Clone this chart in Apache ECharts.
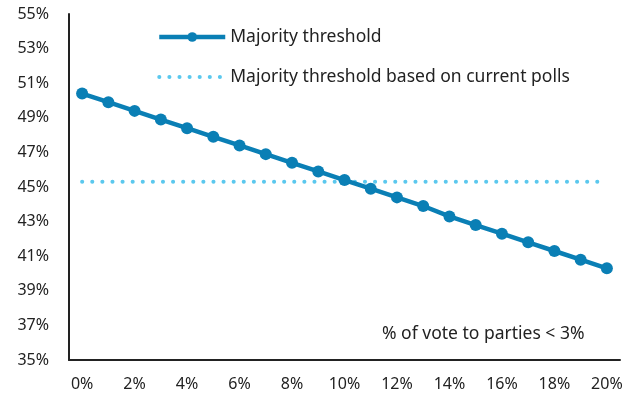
<!DOCTYPE html>
<html><head><meta charset="utf-8">
<script src="https://cdn.jsdelivr.net/npm/echarts@6/dist/echarts.min.js"></script>
<style>html,body{margin:0;padding:0;background:#fff}#c{width:634px;height:398px}</style>
</head><body><div id="c"></div>
<script>
const categories = ['0%','1%','2%','3%','4%','5%','6%','7%','8%','9%','10%','11%','12%','13%','14%','15%','16%','17%','18%','19%','20%'];
const majority = [50.4,49.9,49.4,48.9,48.4,47.9,47.4,46.9,46.4,45.9,45.4,44.9,44.4,43.9,43.3,42.8,42.3,41.8,41.3,40.8,40.3];
const pollsThreshold = [45.3,45.3,45.3,45.3,45.3,45.3,45.3,45.3,45.3,45.3,45.3,45.3,45.3,45.3,45.3,45.3,45.3,45.3,45.3,45.3,45.3];
const seriesNames = ['Majority threshold','Majority threshold based on current polls'];
const noteText = '% of vote to parties < 3%';
const font = 'Noto Sans';
const chart = echarts.init(document.getElementById('c'));
chart.setOption({
  animation:false,
  textStyle:{fontFamily:font},
  grid:{left:69,right:14,top:14,bottom:38},
  legend:{
    orient:'vertical', left:152, top:23, itemWidth:66, itemHeight:12, itemGap:22,
    textStyle:{fontFamily:font,fontSize:17.5,color:'#222'},
    data:[
      {name:seriesNames[0],lineStyle:{width:4.5}},
      {name:seriesNames[1],itemStyle:{opacity:0},lineStyle:{width:4}}
    ]
  },
  xAxis:{
    type:'category', data:categories, boundaryGap:true,
    axisLine:{lineStyle:{color:'#222',width:2}},
    axisTick:{show:false},
    axisLabel:{interval:1,fontFamily:font,fontSize:16,color:'#222',margin:16}
  },
  yAxis:{
    type:'value', min:35, max:55, interval:2,
    splitLine:{show:false},
    axisLine:{show:true,lineStyle:{color:'#222',width:2}},
    axisTick:{show:false},
    axisLabel:{formatter:'{value}%',fontFamily:font,fontSize:16,color:'#222',margin:20}
  },
  graphic:[{type:'text',left:382,top:325,style:{text:noteText,fontFamily:font,fontSize:17.5,fill:'#222'}}],
  series:[
    {name:seriesNames[1],type:'line',data:pollsThreshold,symbol:'none',
     lineStyle:{color:'#5BC8EE',width:4,type:[0.1,10],cap:'round'},itemStyle:{color:'#5BC8EE'},z:1},
    {name:seriesNames[0],type:'line',data:majority,symbol:'circle',symbolSize:12,
     lineStyle:{color:'#0A7FB5',width:4.5},itemStyle:{color:'#0A7FB5'},z:2}
  ]
});
</script></body></html>
